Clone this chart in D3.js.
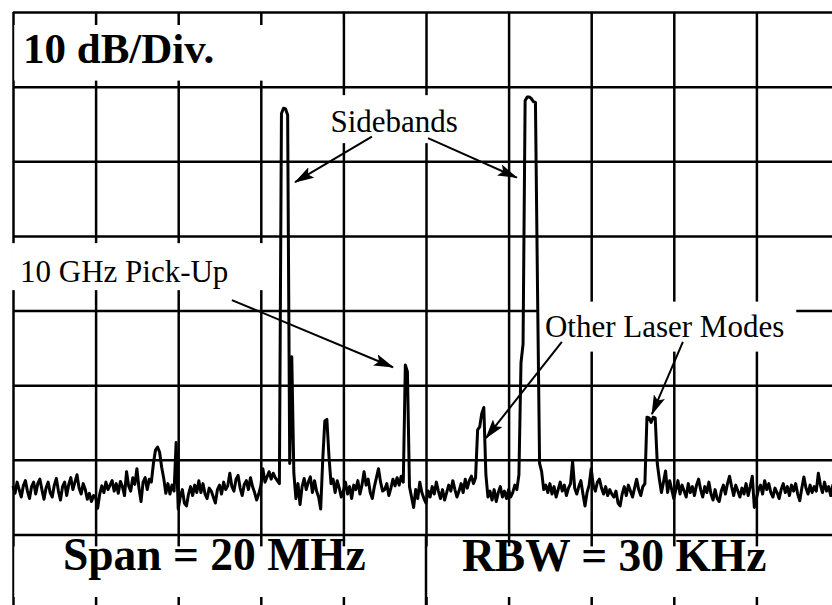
<!DOCTYPE html>
<html>
<head>
<meta charset="utf-8">
<script src="https://cdn.jsdelivr.net/npm/d3@7"></script>
<style>
  body { margin: 0; background: #fff; }
  svg { display: block; }
  .grid line { stroke: #000; stroke-width: 2.5; }
  .grid .domain { display: none; }
  text { font-family: "Liberation Serif", "Times New Roman", serif; fill: #000; }
</style>
</head>
<body>
<div id="chart"></div>
<script>
// trace of the analyzer: 401 bins, 0.05 MHz apart, levels in dB below the top line
var startMHz = -10, stepMHz = 0.05;
var levels = [
  -63.5,-64.5,-63,-64,-65,-63.5,-62.8,-64.2,-65.2,-63.6,
  -63,-64.6,-63.2,-62.6,-64,-65.3,-63.8,-63,-64.4,-65,
  -63.4,-62.5,-64.2,-65.4,-63.6,-63,-64.8,-63.3,-62.4,-64,
  -63,-62,-63.8,-64.6,-63.2,-64,-65.3,-64.5,-65.6,-64.8,
  -65,-66.5,-64.6,-63.5,-64.4,-63,-64,-63.4,-62.8,-64.2,
  -63.2,-64.5,-62.9,-63.6,-64.8,-61.6,-63.5,-64.2,-62.4,-63.3,
  -61.2,-63.8,-65.6,-63,-62.4,-64,-62.6,-63,-60.5,-58.7,
  -58.3,-59,-61,-62.5,-64.5,-63.2,-64.6,-63.4,-64.2,-57.7,
  -66.6,-65,-64,-65.8,-66.2,-64.6,-63.6,-64.8,-63.4,-64.4,
  -62.8,-64.4,-63.2,-64.6,-65.2,-63.8,-64.2,-65,-65.8,-64,
  -63.4,-64.6,-63,-64,-63.5,-61.8,-63.6,-64.2,-62.6,-62.1,
  -63.8,-64.8,-63.3,-62.8,-64,-62.4,-63.6,-64.4,-65.4,-64.6,
  -63.5,-61.2,-63,-62.3,-61.6,-62.6,-61.8,-62.4,-62.8,-63.2,
  -13.6,-12.9,-13,-13.8,-60.5,-46.2,-61.8,-65.2,-63.2,-66,
  -63.6,-62.5,-64,-63,-62.3,-64.4,-62.8,-64.2,-65,-66.6,
  -60,-54.8,-54.6,-59.5,-63.2,-62.6,-64.4,-62.8,-63.8,-65,
  -64.2,-63,-64.6,-63.6,-65.2,-63.4,-64,-62.8,-64.6,-63.4,
  -61.6,-63.4,-62.6,-64.4,-65.2,-63.6,-62.4,-61.2,-63,-64.2,
  -64,-63.2,-64.8,-63.8,-62.6,-63.5,-62.4,-63.4,-62.2,-63,
  -47.3,-48.2,-63.6,-65,-66.4,-64,-65.2,-63,-64.4,-65.2,
  -65.8,-64.2,-65,-63.6,-64.6,-63,-64.2,-65.2,-64,-65.4,
  -64.4,-63.4,-64.2,-62.8,-64,-65,-64.2,-63.2,-64.4,-62.6,
  -63.8,-62.8,-62.2,-63.2,-62.4,-56,-55.6,-53.8,-53,-62,
  -65,-64.2,-65.4,-64,-65.6,-64.4,-63.6,-65,-64.2,-65.2,
  -64,-65,-64.4,-63.4,-64,-62,-47,-44.5,-11.9,-11.4,
  -11.4,-11.6,-12,-12.1,-37,-60.5,-61.6,-64,-63.4,-64.4,
  -63.2,-64.6,-63.6,-65,-64,-63,-64.2,-63.4,-64.8,-63.8,
  -63.2,-60.2,-63.8,-64.6,-63.6,-62.8,-64.6,-66.2,-64.4,-63.4,
  -61.2,-63.4,-64.2,-63,-62.6,-63.8,-64.6,-63.6,-64.8,-64,
  -64.6,-65,-64.2,-65.8,-66.2,-64.6,-63.6,-64.8,-63.4,-64.2,
  -65,-63.8,-62.6,-64,-64.8,-63.6,-63.2,-54.3,-54.4,-55,
  -54.3,-54.4,-60.5,-62.6,-64.4,-63,-61.5,-64.4,-62.8,-64,
  -65.2,-64,-62.8,-64.6,-63.4,-64.2,-65,-63.2,-64.4,-63.6,
  -64.8,-63.4,-62.6,-64,-65,-63.6,-64.4,-63,-64.6,-65.4,
  -64,-65.2,-65.6,-64.2,-63.4,-64.6,-63.2,-62.2,-63.6,-64.8,
  -63.4,-64.2,-65,-63.8,-64.6,-63.2,-64.8,-63.6,-62.2,-66.4,
  -65.2,-64,-63.4,-64.6,-62.8,-64,-63.2,-64.4,-65,-63.8,
  -64.4,-65.2,-64,-63.2,-64.4,-63.6,-64.8,-63.4,-64.2,-63.2,
  -64.6,-65.5,-63.8,-62.3,-63.8,-64.6,-63.4,-64.4,-63.6,-64.2,
  -61.8,-63.4,-64.4,-63,-64.2,-63.6,-64.8,-63.4,-64,-63.6,
  -64
];

// graticule: 2 MHz and 10 dB per division
var freqGrid = [-10, -8, -6, -4, -2, 0, 2, 4, 6, 8, 10];
var levelGrid = [0, -10, -20, -30, -40, -50, -60, -70, -80];

var topLabel = "10 dB/Div.";
var spanLabel = "Span = 20 MHz";
var rbwLabel = "RBW = 30 KHz";

// annotations (MHz, dB)
var noteText = ["Sidebands", "10 GHz Pick-Up", "Other Laser Modes"];
var noteAt = [[-0.77, -16.1], [-9.83, -36.2], [2.88, -43.5]];
var noteAnchor = ["middle", "start", "start"];
var arrowFrom = [[-1.31, -16.7], [0.05, -16.9], [-4.70, -38.6], [3.29, -44.2], [6.22, -44.2]];
var arrowTo = [[-3.17, -22.8], [2.2, -22.2], [-0.80, -47.6], [1.45, -57.1], [5.47, -53.9]];

// white patch around each note: left, top, right, bottom padding
var notePad = [[8, 9, 8, 4], [8, 11, 40, 1], [8, 7, 12, 8]];

var margin = {top: 12, left: 13},
    width = 826,
    height = 597;

var svg = d3.select("#chart")
  .append("svg")
    .attr("width", 832)
    .attr("height", 605);

svg.append("defs").append("marker")
    .attr("id", "head")
    .attr("viewBox", "0 0 20 12")
    .attr("refX", 19)
    .attr("refY", 6)
    .attr("markerWidth", 20)
    .attr("markerHeight", 12)
    .attr("markerUnits", "userSpaceOnUse")
    .attr("orient", "auto")
  .append("path")
    .attr("d", "M0,0L20,6L0,12L4,6z")
    .attr("fill", "#000");

var g = svg.append("g")
    .attr("transform", "translate(" + margin.left + "," + margin.top + ")");

var x = d3.scaleLinear()
  .domain([startMHz, startMHz + stepMHz * (levels.length - 1)])
  .range([0, width]);
var y = d3.scaleLinear()
  .domain([0, -80])
  .range([0, height]);

// grid lines from the axes
g.append("g").attr("class", "grid")
  .attr("transform", "translate(0," + height + ")")
  .call(d3.axisBottom(x).tickValues(freqGrid).tickSize(height).tickSizeOuter(0).tickFormat(""))
  .selectAll(".tick line").attr("y2", -height);
g.append("g").attr("class", "grid")
  .call(d3.axisLeft(y).tickValues(levelGrid).tickSize(-width).tickSizeOuter(0).tickFormat(""));

// white panels over the first and last rows
g.append("rect")
  .attr("x", x(-10) + 1.3).attr("y", y(0) + 13)
  .attr("width", x(-2) - x(-10) - 2.6).attr("height", y(-10) - y(0) - 19)
  .attr("fill", "#fff");
g.append("rect")
  .attr("x", x(-10) + 1.3).attr("y", y(-70) + 12)
  .attr("width", width).attr("height", y(-80) - y(-70) - 24)
  .attr("fill", "#fff");
g.append("line")
  .attr("x1", x(0)).attr("x2", x(0))
  .attr("y1", y(-70)).attr("y2", y(-80))
  .attr("stroke", "#000").attr("stroke-width", 2.5);

g.append("text")
  .attr("x", x(-10) + 10).attr("y", y(0) + 51)
  .style("font-size", "43px").style("font-weight", "bold")
  .text(topLabel);
g.append("text")
  .attr("x", x(-10) + 50).attr("y", y(-70) + 36)
  .style("font-size", "45.5px").style("font-weight", "bold")
  .text(spanLabel);
g.append("text")
  .attr("x", x(0) + 36).attr("y", y(-70) + 37)
  .style("font-size", "45.5px").style("font-weight", "bold")
  .text(rbwLabel);

// annotation labels with a white patch behind them
var notes = g.selectAll(".note")
  .data(noteText)
  .enter().append("g")
    .attr("class", "note");
notes.append("rect").attr("fill", "#fff");
notes.append("text")
  .attr("x", function(d, i) { return x(noteAt[i][0]); })
  .attr("y", function(d, i) { return y(noteAt[i][1]); })
  .attr("text-anchor", function(d, i) { return noteAnchor[i]; })
  .style("font-size", "31px")
  .text(function(d) { return d; });
notes.each(function(d, i) {
  var b = d3.select(this).select("text").node().getBBox(),
      p = notePad[i];
  d3.select(this).select("rect")
    .attr("x", b.x - p[0]).attr("y", b.y - p[1])
    .attr("width", b.width + p[0] + p[2]).attr("height", b.height + p[1] + p[3]);
});

// the trace
var line = d3.line()
  .x(function(d, i) { return x(startMHz + i * stepMHz); })
  .y(function(d) { return y(d); });
g.append("path")
  .datum(levels)
  .attr("d", line)
  .attr("fill", "none")
  .attr("stroke", "#000")
  .attr("stroke-width", 3)
  .attr("stroke-linejoin", "round");

// arrows
g.selectAll(".arrow")
  .data(arrowFrom)
  .enter().append("line")
    .attr("class", "arrow")
    .attr("x1", function(d) { return x(d[0]); })
    .attr("y1", function(d) { return y(d[1]); })
    .attr("x2", function(d, i) { return x(arrowTo[i][0]); })
    .attr("y2", function(d, i) { return y(arrowTo[i][1]); })
    .attr("stroke", "#000")
    .attr("stroke-width", 2)
    .attr("marker-end", "url(#head)");
</script>
</body>
</html>
